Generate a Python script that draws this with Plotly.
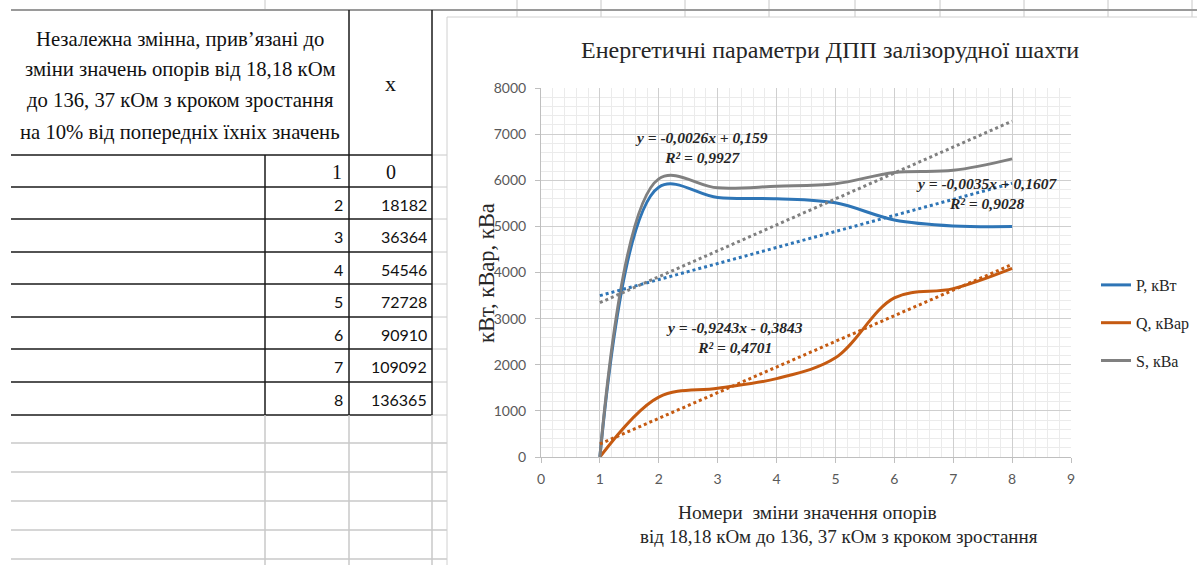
import numpy as np
import plotly.graph_objects as go

# ---------------- data ----------------
row_ids = [1, 2, 3, 4, 5, 6, 7, 8]
x_values = [0, 18182, 36364, 54546, 72728, 90910, 109092, 136365]
step_no = [1, 2, 3, 4, 5, 6, 7, 8]
P_kw = [0, 5850, 5625, 5600, 5510, 5140, 5010, 4995]
Q_kvar = [0, 1300, 1490, 1700, 2150, 3450, 3650, 4090]
S_kva = [0, 6030, 5835, 5870, 5925, 6170, 6215, 6464]
series_names = ["P, кВт", "Q, кВар", "S, кВа"]
series_colors = ["#2E75B6", "#C55A11", "#808080"]
eq_texts = [
    "y = -0,0035x + 0,1607<br>R² = 0,9028",
    "y = -0,9243x - 0,3843<br>R² = 0,4701",
    "y = -0,0026x + 0,159<br>R² = 0,9927",
]
eq_pos = [(7.57, 5712), (3.29, 2601), (2.73, 6720)]
header_lines = [
    "Незалежна змінна, прив’язані до",
    "зміни значень опорів від 18,18 кОм",
    "до 136, 37 кОм з кроком зростання",
    "на 10% від попередніх їхніх значень",
]
x_header = "x"
title_text = "Енергетичні параметри ДПП залізорудної шахти"
y_title = "кВт, кВар, кВа"
x_title_lines = ["Номери  зміни значення опорів",
                 "від 18,18 кОм до 136, 37 кОм з кроком зростання"]

# ---------------- geometry helpers (layout only) ----------------
W, H = 1197, 565
L, R, T, B = 541, 1071, 88, 457


def px(x):
    return (x - L) / (R - L)


def py(y):
    return (B - y) / (B - T)


SERIF = "Liberation Serif"
SANS = "Lato"

fig = go.Figure()
series = [P_kw, Q_kvar, S_kva]
for i, (vals, nm, col) in enumerate(zip(series, series_names, series_colors)):
    fig.add_trace(go.Scatter(
        x=step_no, y=vals, name=nm, mode="lines",
        line=dict(color=col, width=3, shape="spline", smoothing=1.0),
        legendgroup=nm, hoverinfo="x+y+name"))

for i, (vals, nm, col) in enumerate(zip(series, series_names, series_colors)):
    k, b = np.polyfit(step_no, vals, 1)
    xs = [step_no[0], step_no[-1]]
    fig.add_trace(go.Scatter(
        x=xs, y=[k * xs[0] + b, k * xs[1] + b], mode="lines",
        line=dict(color=col, width=3, dash="dot"),
        showlegend=False, hoverinfo="skip"))

shapes = []


def hline(y, x0, x1, color, width):
    shapes.append(dict(type="line", xref="paper", yref="paper",
                       x0=px(x0), x1=px(x1), y0=py(y), y1=py(y),
                       line=dict(color=color, width=width), layer="below"))


def vline(x, y0, y1, color, width):
    shapes.append(dict(type="line", xref="paper", yref="paper",
                       x0=px(x), x1=px(x), y0=py(y0), y1=py(y1),
                       line=dict(color=color, width=width), layer="below"))


GRID_XL = "#C8C8C8"
BLACK = "#1a1a1a"
# spreadsheet gridlines above the chart
for gx in [517, 601, 685, 769, 855, 940, 1024, 1108, 1192]:
    vline(gx, 0, 17, GRID_XL, 1)
vline(265, 0, 10, GRID_XL, 1)
hline(10, 11, 1197, "#9a9a9a", 2)
# table body
row_lines = [155, 187, 219, 252, 284, 317, 349, 382, 415]
for ry in row_lines:
    hline(ry, 432, 447, GRID_XL, 1)
for ry in row_lines:
    hline(ry, 11, 432, BLACK, 1.5)
vline(349, 10, 415, BLACK, 1.5)
vline(432, 10, 415, BLACK, 1.5)
vline(265, 155, 415, BLACK, 1.5)
for ry in [443, 472, 501, 530, 559]:
    hline(ry, 11, 447, GRID_XL, 1.5)
for vx in [265, 349, 432]:
    vline(vx, 415, 565, GRID_XL, 1.5)
# chart box
shapes.append(dict(type="rect", xref="paper", yref="paper",
                   x0=px(447), x1=px(1210), y0=py(17), y1=py(575),
                   fillcolor="white", line=dict(color="#D0D0D0", width=1),
                   layer="below"))

ann = []
for j, (txt, yy) in enumerate(zip(header_lines, [39, 70, 101, 132])):
    ann.append(dict(text=txt, xref="paper", yref="paper", x=px(180), y=py(yy),
                    showarrow=False, xanchor="center", yanchor="middle",
                    font=dict(family=SERIF, size=20.7, color="#111111")))
ann.append(dict(text=x_header, xref="paper", yref="paper", x=px(390), y=py(84),
                showarrow=False, xanchor="center", yanchor="middle",
                font=dict(family=SERIF, size=22, color="#111111")))
for j, (rid, xv) in enumerate(zip(row_ids, x_values)):
    yc = (row_lines[j] + row_lines[j + 1]) / 2 + 1
    if j == 0:
        ann.append(dict(text=str(rid), xref="paper", yref="paper", x=px(344), y=py(yc),
                        showarrow=False, xanchor="right", yanchor="middle",
                        font=dict(family=SERIF, size=20, color="#111111")))
        ann.append(dict(text=str(xv), xref="paper", yref="paper", x=px(391), y=py(yc),
                        showarrow=False, xanchor="center", yanchor="middle",
                        font=dict(family=SERIF, size=20, color="#111111")))
    else:
        ann.append(dict(text=str(rid), xref="paper", yref="paper", x=px(345), y=py(yc),
                        showarrow=False, xanchor="right", yanchor="middle",
                        font=dict(family=SANS, size=16, color="#111111")))
        ann.append(dict(text=str(xv), xref="paper", yref="paper", x=px(429), y=py(yc),
                        showarrow=False, xanchor="right", yanchor="middle",
                        font=dict(family=SANS, size=16, color="#111111")))

# chart title
ann.append(dict(text=title_text, xref="paper", yref="paper", x=px(830), y=py(50),
                showarrow=False, xanchor="center", yanchor="middle",
                font=dict(family=SERIF, size=24, color="#262626")))
# y title
ann.append(dict(text=y_title, xref="paper", yref="paper", x=px(486), y=py(273),
                showarrow=False, xanchor="center", yanchor="middle", textangle=-90,
                font=dict(family=SERIF, size=22.5, color="#262626")))
# x title
ann.append(dict(text=x_title_lines[0], xref="paper", yref="paper", x=px(807), y=py(512),
                showarrow=False, xanchor="center", yanchor="middle",
                font=dict(family=SERIF, size=19.5, color="#262626")))
ann.append(dict(text=x_title_lines[1], xref="paper", yref="paper", x=px(839), y=py(536),
                showarrow=False, xanchor="center", yanchor="middle",
                font=dict(family=SERIF, size=19, color="#262626")))
# trendline equations
for txt, (ex, ey) in zip(eq_texts, eq_pos):
    ann.append(dict(text=txt, xref="x", yref="y", x=ex, y=ey,
                    showarrow=False, xanchor="center", yanchor="middle",
                    font=dict(family=SERIF, size=15.5, color="#262626",
                              weight="bold", style="italic")))

axis_common = dict(showline=True, linecolor="#BFBFBF", linewidth=1,
                   ticks="outside", ticklen=5, tickcolor="#BFBFBF",
                   showgrid=True, gridcolor="#CFCFCF", gridwidth=1,
                   zeroline=False,
                   tickfont=dict(family=SANS, size=14, color="#595959"))

fig.update_layout(
    width=W, height=H,
    margin=dict(l=L, r=W - R, t=T, b=H - B, pad=0, autoexpand=False),
    paper_bgcolor="white", plot_bgcolor="rgba(0,0,0,0)",
    shapes=shapes, annotations=ann,
    showlegend=True,
    legend=dict(x=px(1096), y=py(268), xanchor="left", yanchor="top",
                font=dict(family=SERIF, size=16, color="#262626"),
                tracegroupgap=14, bgcolor="rgba(0,0,0,0)", itemwidth=30),
    xaxis=dict(range=[0, 9], dtick=1, tick0=0, ticklabelstandoff=4,
               minor=dict(dtick=0.2, showgrid=True, gridcolor="#EBEBEB"),
               **axis_common),
    yaxis=dict(range=[0, 8000], dtick=1000, tick0=0, ticklabelstandoff=6,
               minor=dict(dtick=200, showgrid=True, gridcolor="#EBEBEB"),
               **axis_common),
)

fig.write_html("out.html", config={"displayModeBar": False},
               post_script="document.body.style.margin='0';document.body.style.padding='0';")
